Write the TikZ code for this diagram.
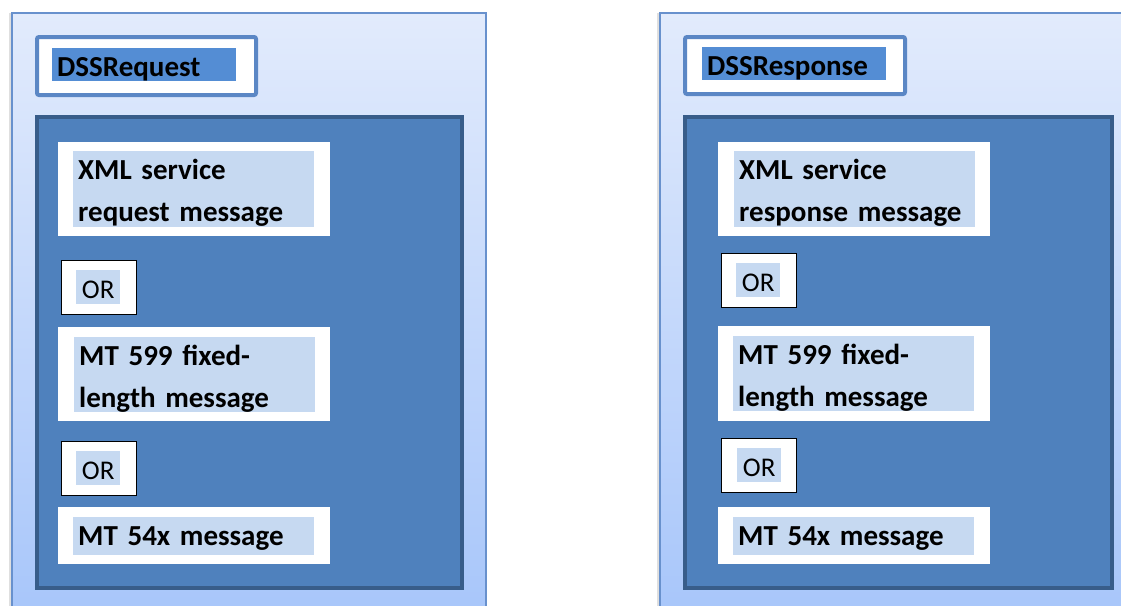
\documentclass[tikz,border=0pt]{standalone}
\usepackage{fontspec}
\setmainfont{Carlito}
\usepackage{tikz}
\usetikzlibrary{shadows}

\definecolor{paneltop}{RGB}{226,235,252}
\definecolor{panelbottom}{RGB}{166,197,250}
\definecolor{panelline}{RGB}{104,145,205}
\definecolor{headline}{RGB}{91,135,197}
\definecolor{headfill}{RGB}{84,141,212}
\definecolor{bodyfill}{RGB}{79,129,189}
\definecolor{bodyline}{RGB}{56,93,138}
\definecolor{msgfill}{RGB}{198,217,241}

\begin{document}
\begin{tikzpicture}[x=1pt, y=-1pt]
    \tikzstyle{panel}=[draw=panelline, line width=1.5pt, top color=paneltop, bottom color=panelbottom, anchor=north west, inner sep=0pt, drop shadow={shadow xshift=-3pt, shadow yshift=0pt, opacity=0.25}]
    \tikzstyle{headbox}=[draw=headline, fill=white, line width=4pt, rounded corners=2pt, anchor=north west, inner sep=0pt]
    \tikzstyle{headtext}=[fill=headfill, anchor=north west, inner xsep=5pt, inner ysep=0pt, text width=174pt, text height=28pt, text depth=5pt, align=left, font=\fontsize{29}{34}\selectfont\bfseries]
    \tikzstyle{bodybox}=[draw=bodyline, fill=bodyfill, line width=4pt, anchor=north west, inner sep=0pt]
    \tikzstyle{msgbox}=[fill=white, anchor=north west, inner sep=0pt, minimum width=272pt]
    \tikzstyle{msgtext}=[fill=msgfill, anchor=north west, inner xsep=5pt, inner ysep=0pt, text width=231pt, text height=28pt, align=left, font=\fontsize{29}{42}\selectfont\bfseries]
    \tikzstyle{orbox}=[draw=black, fill=white, line width=1.2pt, anchor=north west, inner sep=0pt, minimum width=75pt, minimum height=54pt]
    \tikzstyle{ortext}=[fill=msgfill, anchor=north west, inner sep=0pt, minimum width=44pt, text height=28pt, text depth=6pt, font=\fontsize{27}{32}\selectfont]

    \clip (0,0) rectangle (1121,605);
    \fill[white] (0,0) rectangle (1121,605);

    % Request side
    \node[panel, minimum width=474pt, minimum height=620pt] (req) at (11,12) {};
    \node[headbox, minimum width=219pt, minimum height=58pt] (reqhead) at (35,35) {};
    \node[headtext] (reqname) at (52,48) {DSSRequest};
    \node[bodybox, minimum width=425pt, minimum height=471pt] (reqbody) at (35,115) {};
    \node[msgbox, minimum height=94pt] (reqxml) at (58,142) {};
    \node[msgtext, text depth=48pt] (reqxmltext) at (73,151) {XML service\\request message};
    \node[orbox] (reqor1) at (60.5,259.5) {};
    \node[ortext] (reqor1text) at (76,270) {OR};
    \node[msgbox, minimum height=94pt] (reqfix) at (58,327) {};
    \node[msgtext, text depth=47pt] (reqfixtext) at (74,337) {MT 599 fixed-\\length message};
    \node[orbox] (reqor2) at (60.5,440.5) {};
    \node[ortext] (reqor2text) at (76,451) {OR};
    \node[msgbox, minimum height=57pt] (reqmt) at (58,507) {};
    \node[msgtext, text depth=10pt] (reqmttext) at (73,517) {MT 54x message};

    % Response side
    \node[panel, minimum width=480pt, minimum height=620pt] (res) at (659,12) {};
    \node[headbox, minimum width=220pt, minimum height=57pt] (reshead) at (683,35) {};
    \node[headtext] (resname) at (702,47) {DSSResponse};
    \node[bodybox, minimum width=427pt, minimum height=471pt] (resbody) at (683,115) {};
    \node[msgbox, minimum height=94pt] (resxml) at (718,142) {};
    \node[msgtext, text depth=48pt] (resxmltext) at (734,151) {XML service\\response message};
    \node[orbox] (resor1) at (720.5,252.5) {};
    \node[ortext] (resor1text) at (736,263) {OR};
    \node[msgbox, minimum height=95pt] (resfix) at (718,326) {};
    \node[msgtext, text depth=47pt] (resfixtext) at (733,336) {MT 599 fixed-\\length message};
    \node[orbox] (resor2) at (720.5,437.5) {};
    \node[ortext] (resor2text) at (737,448) {OR};
    \node[msgbox, minimum height=57pt] (resmt) at (718,507) {};
    \node[msgtext, text depth=10pt] (resmttext) at (733,517) {MT 54x message};
\end{tikzpicture}
\end{document}
